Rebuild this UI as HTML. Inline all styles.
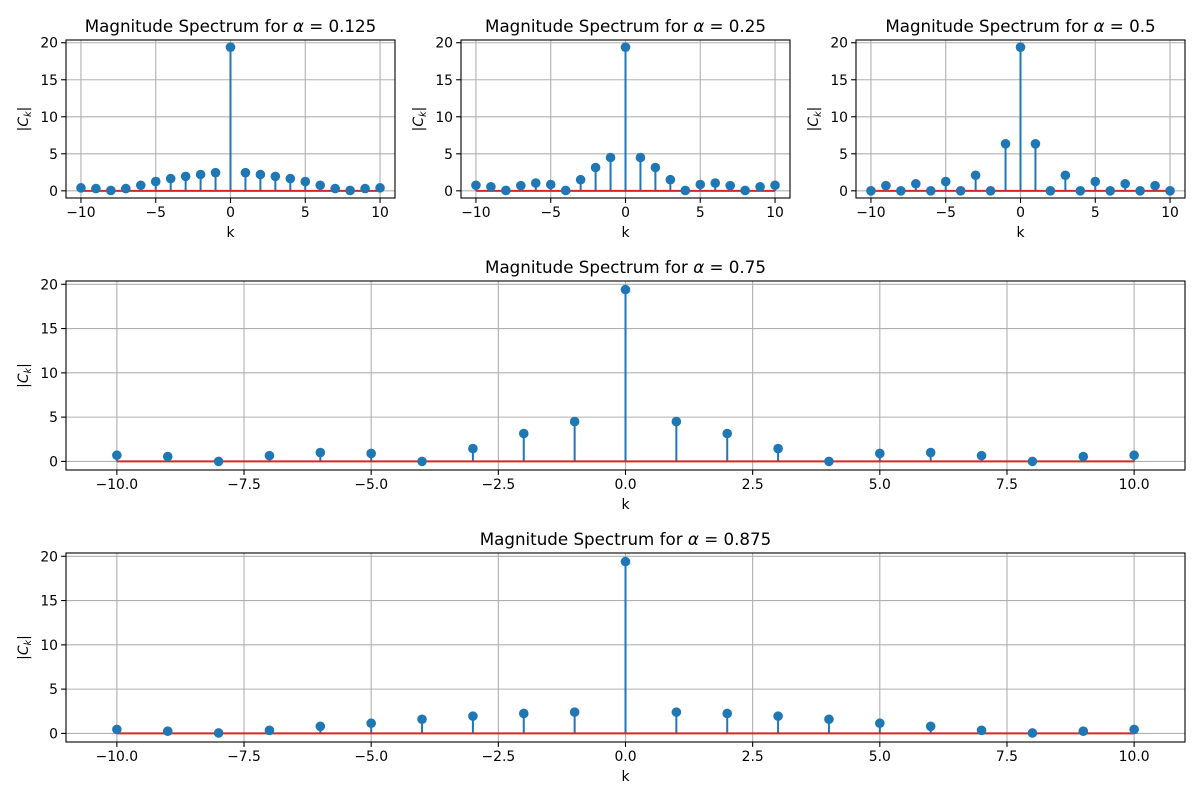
<!DOCTYPE html>
<html><head><meta charset="utf-8"><style>
body{margin:0;background:#fff;}
svg{display:block;font-family:"DejaVu Sans","Liberation Sans",sans-serif;}
</style></head><body>
<svg id="fig" width="1200" height="800"></svg>
<script>
const ks = [-10,-9,-8,-7,-6,-5,-4,-3,-2,-1,0,1,2,3,4,5,6,7,8,9,10];
const mag0125 = [0.4,0.3,0.05,0.3,0.75,1.25,1.65,1.95,2.2,2.45,19.4,2.45,2.2,1.95,1.65,1.25,0.75,0.3,0.05,0.3,0.4];
const mag025 = [0.75,0.55,0.05,0.7,1.05,0.85,0.05,1.5,3.15,4.5,19.4,4.5,3.15,1.5,0.05,0.85,1.05,0.7,0.05,0.55,0.75];
const mag05 = [0.0,0.7,0.0,0.95,0.0,1.25,0.0,2.1,0.0,6.35,19.4,6.35,0.0,2.1,0.0,1.25,0.0,0.95,0.0,0.7,0.0];
const mag075 = [0.7,0.55,0.0,0.65,1.0,0.9,0.0,1.45,3.15,4.5,19.4,4.5,3.15,1.45,0.0,0.9,1.0,0.65,0.0,0.55,0.7];
const mag0875 = [0.45,0.25,0.05,0.35,0.8,1.15,1.6,1.95,2.25,2.4,19.4,2.4,2.25,1.95,1.6,1.15,0.8,0.35,0.05,0.25,0.45];
const alphas = ["0.125","0.25","0.5","0.75","0.875"];
const smallTicks = [-10,-5,0,5,10];
const wideTicks = [-10,-7.5,-5,-2.5,0,2.5,5,7.5,10];
const yTicks = [0,5,10,15,20];

const NS="http://www.w3.org/2000/svg";
const svg=document.getElementById('fig');
function mk(tag,attrs,parent){const e=document.createElementNS(NS,tag);for(const k in attrs)e.setAttribute(k,attrs[k]);(parent||svg).appendChild(e);return e;}
function fmt(v,wide){let s=wide?v.toFixed(1):String(v);return s.replace('-','\u2212');}

const panels=[
 {x0:66,x1:395,y0:40,y1:198,data:mag0125,ticks:smallTicks,wide:false},
 {x0:461,x1:790,y0:40,y1:198,data:mag025,ticks:smallTicks,wide:false},
 {x0:856,x1:1185,y0:40,y1:198,data:mag05,ticks:smallTicks,wide:false},
 {x0:66,x1:1185,y0:281,y1:470,data:mag075,ticks:wideTicks,wide:true},
 {x0:66,x1:1185,y0:553,y1:742,data:mag0875,ticks:wideTicks,wide:true}
];
panels.forEach((p,i)=>{
  const g=mk('g',{});
  
  
  const ymin=-0.97,ymax=20.37;
  const X=v=>p.x0+(v+11)/22*(p.x1-p.x0);
  const Y=v=>p.y1-(v-ymin)/(ymax-ymin)*(p.y1-p.y0);
  p.ticks.forEach(t=>{
    mk('line',{x1:X(t),x2:X(t),y1:p.y0,y2:p.y1,stroke:'#b0b0b0','stroke-width':1.1},g);
    mk('line',{x1:X(t),x2:X(t),y1:p.y1,y2:p.y1+4.9,stroke:'#000','stroke-width':1.1},g);
    const tx=mk('text',{x:X(t),y:p.y1+19,'font-size':13.9,'text-anchor':'middle'},g);tx.textContent=fmt(t,p.wide);
    
  });
  yTicks.forEach(t=>{
    mk('line',{x1:p.x0,x2:p.x1,y1:Y(t),y2:Y(t),stroke:'#b0b0b0','stroke-width':1.1},g);
    mk('line',{x1:p.x0-4.9,x2:p.x0,y1:Y(t),y2:Y(t),stroke:'#000','stroke-width':1.1},g);
    const tx=mk('text',{x:p.x0-8,y:Y(t)+5,'font-size':13.9,'text-anchor':'end'},g);tx.textContent=String(t);
    
  });
  p.data.forEach((v,j)=>{
    const st=mk('line',{x1:X(ks[j]),x2:X(ks[j]),y1:Y(0),y2:Y(v),stroke:'#1f77b4','stroke-width':2},g);
    
  });
  const bl=mk('line',{x1:X(-10),x2:X(10),y1:Y(0),y2:Y(0),stroke:'#d62728','stroke-width':2},g);
  
  p.data.forEach((v,j)=>{
    const c=mk('circle',{cx:X(ks[j]),cy:Y(v),r:4.8,fill:'#1f77b4'},g);
    
  });
  mk('rect',{x:p.x0,y:p.y0,width:p.x1-p.x0,height:p.y1-p.y0,fill:'none',stroke:'#000','stroke-width':1.1},g);
  const ti=mk('text',{x:(p.x0+p.x1)/2,y:p.y0-8,'font-size':16.7,'text-anchor':'middle'},g);
  ti.innerHTML='Magnitude Spectrum for <tspan font-style="italic">α</tspan> = '+alphas[i];
  
  const xl=mk('text',{x:(p.x0+p.x1)/2,y:p.y1+39,'font-size':13.9,'text-anchor':'middle'},g);xl.textContent='k';
  
  const yc=(p.y0+p.y1)/2;
  const yl=mk('text',{x:0,y:0,'font-size':13.9,'text-anchor':'middle',transform:`translate(${p.x0-38},${yc}) rotate(-90)`},g);
  yl.innerHTML='|<tspan font-style="italic">C</tspan><tspan font-size="9.7" font-style="italic" dy="3">k</tspan><tspan dy="-3">|</tspan>';
  
});
</script>
</body></html>
